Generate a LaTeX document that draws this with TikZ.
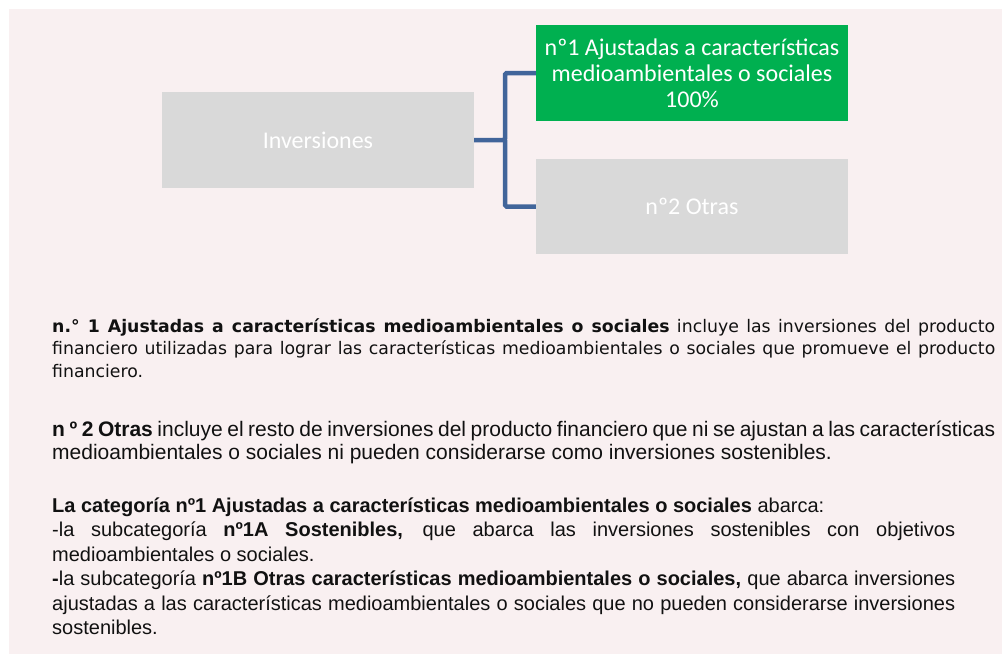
\documentclass[tikz,border=0pt]{standalone}
\usepackage{fontspec}
\setmainfont{Liberation Sans}
\newfontfamily\calfont{Carlito}
\newfontfamily\verfont{DejaVu Sans}
\newfontfamily\arfont{Liberation Sans}
\definecolor{panelpink}{HTML}{F9F0F1}
\definecolor{boxgrey}{HTML}{D9D9D9}
\definecolor{boxgreen}{HTML}{00B050}
\definecolor{connblue}{HTML}{41659A}
\definecolor{txt}{HTML}{111111}
\tikzset{
  catbox/.style={rectangle, inner sep=0pt, text=white, align=center,
    font=\calfont\fontsize{24}{26}\selectfont},
  conn/.style={draw=connblue, line width=4.5pt, rounded corners=1.5pt},
  para/.style={anchor=base west, inner sep=0pt, align=justify, text=txt}
}
\begin{document}
\begin{tikzpicture}[x=1pt, y=-1pt]
\useasboundingbox (0,0) rectangle (1002,654);
\fill[white] (0,0) rectangle (1002,654);
\fill[panelpink] (9,9) rectangle (1002,654);

\node[catbox, fill=boxgrey, minimum width=312pt, minimum height=96pt] (inv) at (318,140) {Inversiones};
\node[catbox, fill=boxgreen, minimum width=312pt, minimum height=96pt] (aj) at (692,73) {nº1 Ajustadas a características\\medioambientales o sociales\\100\%};
\node[catbox, fill=boxgrey, minimum width=312pt, minimum height=95pt] (otr) at (692,206.5) {nº2 Otras};

\coordinate (br) at (505,140);
\draw[conn] (inv.east) -- (br) |- (aj.west);
\draw[conn] (br) |- (otr.west);

\node[para, text width=943pt, font=\verfont\fontsize{17.3}{22.5}\selectfont] (p1) at (52,332)
{\textbf{n.° 1 Ajustadas a características medioambientales o sociales} incluye las inversiones del producto\linebreak
financiero utilizadas para lograr las características medioambientales o sociales que promueve el producto\linebreak
financiero.};

\node[para, text width=943pt, font=\arfont\fontsize{21}{23}\selectfont] (p2) at (52,436)
{\textbf{n º 2 Otras} incluye el resto de inversiones del producto financiero que ni se ajustan a las características\linebreak
medioambientales o sociales ni pueden considerarse como inversiones sostenibles.};

\node[para, text width=903pt, font=\arfont\fontsize{20}{24.5}\selectfont] (p3) at (52,512)
{\textbf{La categoría nº1 Ajustadas a características medioambientales o sociales} abarca:\\
-la subcategoría \textbf{nº1A Sostenibles,} que abarca las inversiones sostenibles con objetivos\linebreak
medioambientales o sociales.\\
\textbf{-}la subcategoría \textbf{nº1B Otras características medioambientales o sociales,} que abarca inversiones\linebreak
ajustadas a las características medioambientales o sociales que no pueden considerarse inversiones\linebreak
sostenibles.};
\end{tikzpicture}
\end{document}
